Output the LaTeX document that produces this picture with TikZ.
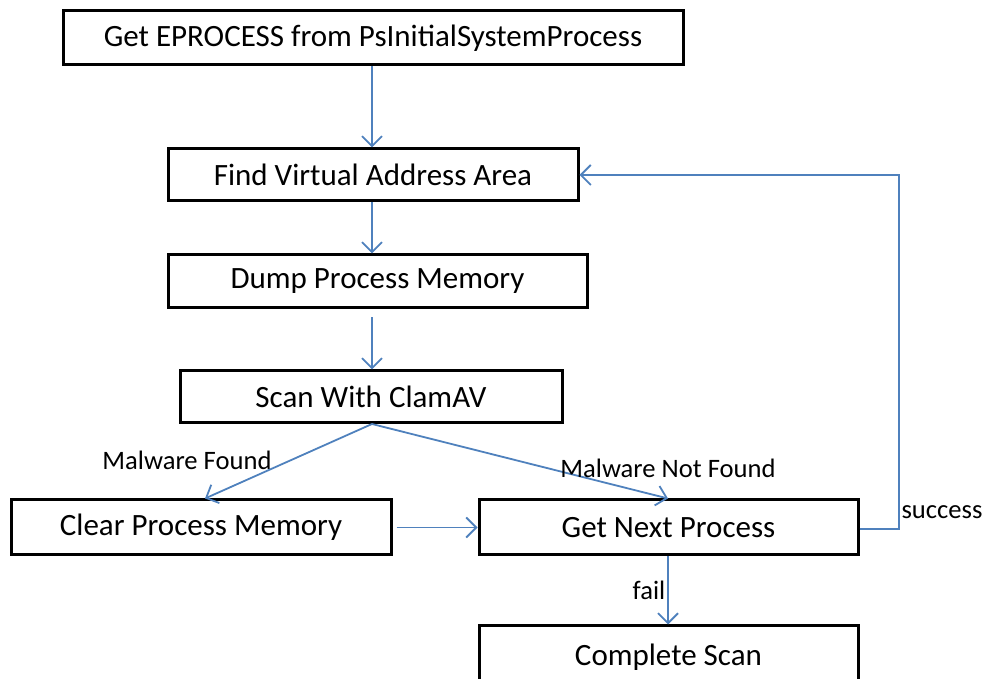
\documentclass[tikz,border=0pt]{standalone}
\usepackage{fontspec}
\setmainfont{Carlito}
\usetikzlibrary{arrows.meta}
\definecolor{flowblue}{RGB}{79,129,189}
\tikzset{
  stepbox/.style={draw=black, line width=1.5pt, fill=white, inner sep=0pt,
    font=\fontsize{15.5}{18}\selectfont, anchor=center},
  flow/.style={draw=flowblue, line width=0.9pt,
    -{Straight Barb[length=5pt,width=10pt,line width=0.9pt]}},
  flowlabel/.style={font=\fontsize{13.3}{15}\selectfont, inner sep=0pt}
}
\begin{document}
\begin{tikzpicture}[x=0.5pt,y=-0.5pt]
  \useasboundingbox (0,0) rectangle (987,679);
  \clip (0,0) rectangle (987,679);

  % process steps
  \node[stepbox, minimum width=310pt, minimum height=27pt] (get)  at (373,38)  {Get EPROCESS from PsInitialSystemProcess};
  \node[stepbox, minimum width=205pt, minimum height=26pt] (vad)  at (373,175) {Find Virtual Address Area};
  \node[stepbox, minimum width=209.5pt, minimum height=26.5pt] (dump) at (377.5,281.5) {Dump Process Memory};
  \node[stepbox, minimum width=191pt, minimum height=26pt] (scan) at (371,397) {Scan With ClamAV};
  \node[stepbox, minimum width=190pt, minimum height=27.5pt] (clear) at (201,527.5) {Clear Process Memory};
  \node[stepbox, minimum width=189.5pt, minimum height=27.5pt] (next) at (668.5,527.5) {Get Next Process};
  \node[stepbox, minimum width=189.5pt, minimum height=31pt] (done) at (668.5,657) {Complete Scan};

  % free ends and bends of connectors
  \coordinate (split) at (372,424);
  \coordinate (loopA) at (899,529);
  \coordinate (loopB) at (899,175);

  % connectors
  \draw[flow] (get.south -| 372,0) -- (vad.north -| 372,0);
  \draw[flow] (vad.south -| 372,0) -- (dump.north -| 372,0);
  \draw[flow] ([yshift=-4pt]dump.south -| 372,0) -- (scan.north -| 372,0);
  \draw[flow] (split) -- (clear.north -| 205,0);
  \draw[flow] (split) -- (next.north -| 668,0);
  \draw[flow] ([xshift=2pt]clear.east) -- (next.west);
  \draw[flow] (next.east |- loopA) -- (loopA) -- (loopB) -- (vad.east);
  \draw[flow] (next.south -| 668,0) -- (done.north -| 668,0);

  % labels
  \node[flowlabel] (lfound)    at (187,460) {Malware Found};
  \node[flowlabel] (lnotfound) at (668,468) {Malware Not Found};
  \node[flowlabel] (lsuccess)  at (942,512) {success};
  \node[flowlabel] (lfail)     at (649,590) {fail};
\end{tikzpicture}
\end{document}
